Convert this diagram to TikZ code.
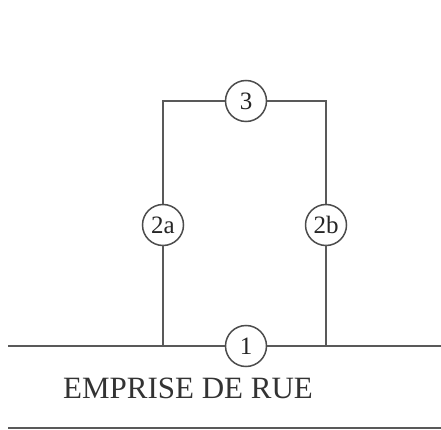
\documentclass[tikz,border=0pt]{standalone}
\usepackage{fontspec}
\setmainfont{Liberation Serif}
\begin{document}
\begin{tikzpicture}[x=1pt,y=-1pt,
  wire/.style={draw=black!65,line width=2.4pt},
  numcirc/.style={circle,draw=black!70,line width=1.5pt,fill=white,minimum size=41pt,inner sep=0pt,font=\fontsize{25}{25}\selectfont,text=black!85},
  lbl/.style={font=\fontsize{31}{31}\selectfont,text=black!80,anchor=base west,inner sep=0pt}]
\useasboundingbox (0,0) rectangle (441,430);
\coordinate (bl) at (163,346);
\coordinate (br) at (326,346);
\coordinate (L) at (8,346);
\coordinate (R) at (441,346);
\coordinate (L2) at (8,428);
\coordinate (R2) at (441,428);
\node[numcirc] (c3) at (246,101) {3};
\node[numcirc] (c2a) at (163,225) {2a};
\node[numcirc] (c2b) at (326,225) {2b};
\node[numcirc] (c1) at (246,346) {1};
\draw[wire] (c3) -| (c2a);
\draw[wire] (c3) -| (c2b);
\draw[wire,line cap=rect] (c2a) -- (bl);
\draw[wire,line cap=rect] (c2b) -- (br);
\draw[wire] (L) -- (c1) (c1) -- (R);
\draw[wire] (L2) -- (R2);
\node[lbl] (t) at (63,398) {EMPRISE DE RUE};
\end{tikzpicture}
\end{document}
